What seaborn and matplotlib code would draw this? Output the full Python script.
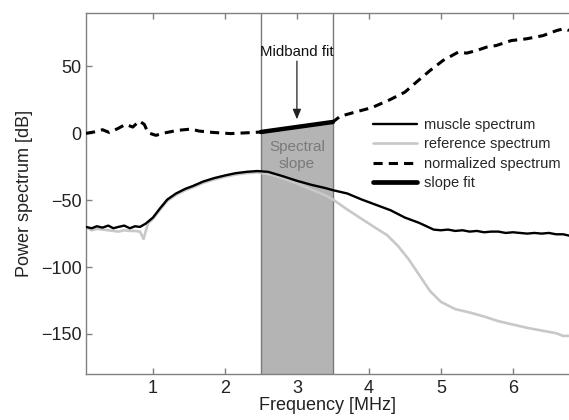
import matplotlib
matplotlib.use("Agg")
import matplotlib.pyplot as plt
import seaborn as sns
import pandas as pd
from matplotlib.lines import Line2D

# Spectra (frequency in MHz, power in dB)
muscle_f = [0.07, 0.15, 0.22, 0.3, 0.38, 0.45, 0.52, 0.6, 0.68, 0.75, 0.82, 0.9,
            1.0, 1.1, 1.2, 1.32, 1.45, 1.55, 1.7, 1.85, 2.0, 2.15, 2.3, 2.45,
            2.6, 2.8, 3.0, 3.2, 3.4, 3.5, 3.7, 3.9, 4.1, 4.3, 4.5, 4.7, 4.9,
            5.0, 5.1, 5.2, 5.3, 5.4, 5.5, 5.6, 5.7, 5.8, 5.9, 6.0, 6.1, 6.2,
            6.3, 6.4, 6.5, 6.6, 6.7, 6.78]
muscle_db = [-70, -71, -69.5, -70.5, -69, -71, -70, -69, -71, -69.5, -70, -67.5,
             -63, -56, -49.5, -45, -41.5, -39.5, -36, -33.5, -31.5, -29.8, -28.8, -28.2,
             -28.8, -32, -35.5, -38.5, -41, -42.5, -45, -49.5, -53.5, -57.5, -63, -67, -72,
             -72.5, -72, -73, -72.5, -73.5, -73, -74, -73.5, -73.5, -74.5, -74, -74.5,
             -75, -74.5, -75, -74.5, -75.5, -75.5, -76.5]

ref_f = [0.07, 0.15, 0.22, 0.3, 0.38, 0.45, 0.52, 0.6, 0.68, 0.75, 0.82, 0.87, 0.93,
         1.0, 1.1, 1.2, 1.32, 1.45, 1.55, 1.7, 1.85, 2.0, 2.15, 2.3, 2.45,
         2.6, 2.8, 3.0, 3.2, 3.4, 3.5, 3.7, 3.9, 4.1, 4.25, 4.4, 4.55, 4.7, 4.85,
         5.0, 5.2, 5.4, 5.6, 5.8, 6.0, 6.2, 6.4, 6.6, 6.7, 6.78]
ref_db = [-70, -72.5, -71.5, -72, -72.5, -73, -73.5, -72.5, -73, -73, -73.5, -79, -67.5,
          -64, -57, -50.5, -46, -42.5, -40.5, -37, -34.5, -32.5, -30.8, -29.8, -29.2,
          -30.5, -33.5, -37.5, -42, -46.5, -49.5, -57, -64, -71, -76, -84, -94, -106, -118,
          -126, -131.5, -134, -137, -140.5, -143, -145.5, -147.5, -149.5, -151.5, -151.5]

norm_f = [0.07, 0.18, 0.3, 0.39, 0.51, 0.62, 0.72, 0.81, 0.88, 0.93,
          1.04, 1.18, 1.34, 1.53, 1.64, 1.83, 2.08, 2.34, 2.5,
          3.5, 3.6, 3.81, 4.04, 4.29, 4.5, 4.66, 4.85, 5.03,
          5.24, 5.36, 5.5, 5.63, 5.77, 5.98, 6.19, 6.42, 6.61, 6.7, 6.78]
norm_db = [0, 1, 2.7, 0.7, 3.5, 6.7, 4.7, 9.2, 6.7, 0.5,
           -1.5, 0.5, 2.2, 3.2, 1.7, 0.7, -0.2, 0.5, 1,
           8.5, 12.7, 15.9, 19.2, 25.1, 30.8, 38.3, 47, 54.5,
           60.7, 60, 62, 64.4, 65.7, 69.4, 70.7, 73.1, 76.9, 78.1, 77]

# Linear fit over the analysis band
band_f = [2.5, 3.5]
slope_db = [1.0, 8.5]

x_ticks = [1, 2, 3, 4, 5, 6]
y_ticks = [-150, -100, -50, 0, 50]

sns.set_style("ticks")
plt.rcParams["font.family"] = ["Liberation Sans", "DejaVu Sans"]
plt.rcParams["axes.edgecolor"] = "#808080"

fig = plt.figure(figsize=(5.69, 4.20), dpi=100)
ax = fig.add_axes([86 / 569, 46 / 420, 483 / 569, 361 / 420])

# shaded analysis band
ax.fill_between(band_f, slope_db, -180, color="#b4b4b4", lw=0, zorder=1)
for f in band_f:
    ax.axvline(f, color="#7a7a7a", lw=1.0, zorder=1.5)

df_ref = pd.DataFrame({"f": ref_f, "db": ref_db})
df_mus = pd.DataFrame({"f": muscle_f, "db": muscle_db})
df_norm = pd.DataFrame({"f": norm_f, "db": norm_db})
df_fit = pd.DataFrame({"f": band_f, "db": slope_db})

sns.lineplot(data=df_ref, x="f", y="db", ax=ax, color="#c8c8c8", lw=1.9,
             estimator=None, zorder=2)
sns.lineplot(data=df_mus, x="f", y="db", ax=ax, color="black", lw=1.7,
             estimator=None, zorder=3)
sns.lineplot(data=df_norm, x="f", y="db", ax=ax, color="black", lw=2.2,
             estimator=None, zorder=3, dashes=False)
ax.lines[-1].set_dashes((3.0, 2.0))
sns.lineplot(data=df_fit, x="f", y="db", ax=ax, color="black", lw=3.2,
             estimator=None, zorder=4)

ax.set_xlim(0.07, 6.78)
ax.set_ylim(-180, 90)
ax.set_xticks(x_ticks)
ax.set_yticks(y_ticks)
ax.set_yticklabels([f"\u2212{-v}" if v < 0 else str(v) for v in y_ticks])
ax.tick_params(direction="in", top=True, right=False, length=4, width=1,
               color="#808080", labelsize=13, labelcolor="#222222")
ax.tick_params(axis="x", pad=4)
ax.tick_params(axis="y", pad=3)
ax.spines["right"].set_visible(False)
for s in ["left", "top", "bottom"]:
    ax.spines[s].set_linewidth(1.0)

ax.set_xlabel("Frequency [MHz]", fontsize=13, color="#222222", labelpad=0)
ax.set_ylabel("Power spectrum [dB]", fontsize=13, color="#222222", labelpad=6)

ax.annotate("", xy=(3.0, 10.5), xytext=(3.0, 54),
            arrowprops=dict(arrowstyle="-|>,head_length=0.6,head_width=0.25",
                            color="#222222", lw=0.9, shrinkA=0, shrinkB=0),
            zorder=5)
ax.text(3.0, 61, "Midband fit", ha="center", va="center", fontsize=10.8,
        color="#111111")
ax.text(3.0, -16.5, "Spectral\nslope", ha="center", va="center", fontsize=11,
        color="#7a7a7a", linespacing=1.25)

handles = [
    Line2D([], [], color="black", lw=1.7),
    Line2D([], [], color="#c8c8c8", lw=1.9),
    Line2D([], [], color="black", lw=2.2, dashes=(3.0, 2.0)),
    Line2D([], [], color="black", lw=3.4),
]
labels = ["muscle spectrum", "reference spectrum", "normalized spectrum", "slope fit"]
ax.legend(handles, labels, loc="upper left", bbox_to_anchor=(0.594, 0.71),
          frameon=False, fontsize=10.5, handlelength=3.0, handletextpad=0.48,
          labelspacing=0.38, borderpad=0, borderaxespad=0)

fig.savefig("out.png", dpi=100)
